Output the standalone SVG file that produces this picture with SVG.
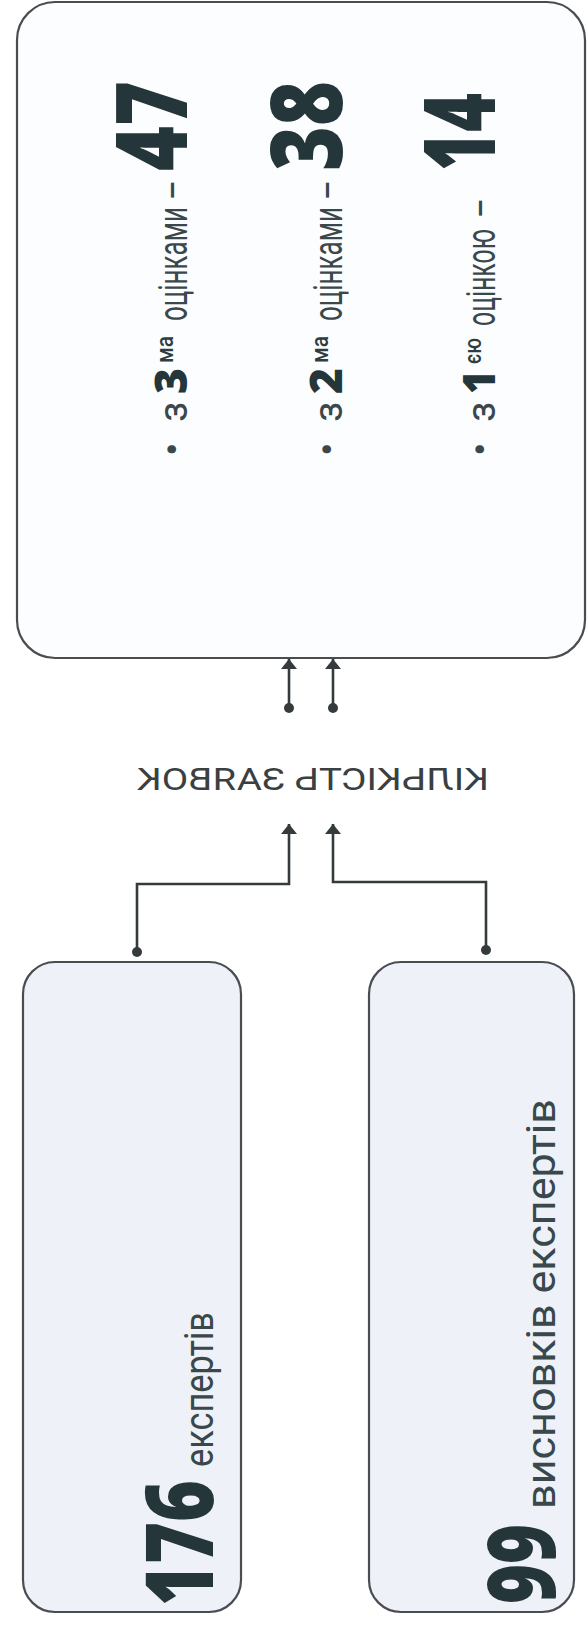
<svg xmlns="http://www.w3.org/2000/svg" width="587" height="1627" viewBox="0 0 587 1627">
<style>
.box{stroke:#4a4d50;stroke-width:2.2}
.top{fill:#fcfdfe}
.low{fill:#eef2f8}
.sm{font-family:Roboto,"Liberation Sans",sans-serif;font-size:40px;fill:#3a474b}
.sup{font-family:Roboto,"Liberation Sans",sans-serif;font-size:24px;font-weight:500;fill:#2e3d41}
.mid{font-family:"Open Sans","Liberation Sans",sans-serif;font-weight:800;font-size:44px;fill:#24363a}
.big{font-family:"Open Sans","Liberation Sans",sans-serif;font-weight:800;fill:#24363a}
.lbl{font-family:Roboto,"Liberation Sans",sans-serif;font-size:32px;fill:#3a3f42}
.ln{fill:none;stroke:#353a3c;stroke-width:2.6}
.dot{fill:#353a3c}
</style>
<defs>
<marker id="ah" viewBox="0 0 10 16" refX="10" refY="8" markerWidth="10" markerHeight="16" markerUnits="userSpaceOnUse" orient="auto">
<path d="M0,0 L10,8 L0,16 Z" fill="#353a3c"/>
</marker>
</defs>

<g id="results">
<rect class="box top" x="17" y="2" width="568" height="656" rx="38"/>
<g transform="translate(187,456) rotate(-90)">
<text class="sm"><tspan x="0" y="0">•</tspan><tspan x="34">з</tspan></text>
<text class="mid" x="62" y="0" textLength="26" lengthAdjust="spacingAndGlyphs">3</text>
<text class="sup" x="93" y="-14" textLength="27" lengthAdjust="spacingAndGlyphs">ма</text>
<text class="sm" x="135" y="0" textLength="114" lengthAdjust="spacingAndGlyphs">оцінками</text>
<text class="sm" x="256" y="0" textLength="20" lengthAdjust="spacingAndGlyphs">–</text>
<text class="big" x="285" y="0" font-size="100" textLength="90" lengthAdjust="spacingAndGlyphs">47</text>
</g>
<g transform="translate(342,456) rotate(-90)">
<text class="sm"><tspan x="0" y="0">•</tspan><tspan x="34">з</tspan></text>
<text class="mid" x="62" y="0" textLength="26" lengthAdjust="spacingAndGlyphs">2</text>
<text class="sup" x="93" y="-14" textLength="27" lengthAdjust="spacingAndGlyphs">ма</text>
<text class="sm" x="135" y="0" textLength="114" lengthAdjust="spacingAndGlyphs">оцінками</text>
<text class="sm" x="256" y="0" textLength="20" lengthAdjust="spacingAndGlyphs">–</text>
<text class="big" x="285" y="0" font-size="100" textLength="90" lengthAdjust="spacingAndGlyphs">38</text>
</g>
<g transform="translate(495,456) rotate(-90)">
<text class="sm"><tspan x="0" y="0">•</tspan><tspan x="34">з</tspan></text>
<text class="mid" x="62" y="0" textLength="24" lengthAdjust="spacingAndGlyphs">1</text>
<text class="sup" x="92" y="-14" textLength="26" lengthAdjust="spacingAndGlyphs">єю</text>
<text class="sm" x="130" y="0" textLength="97" lengthAdjust="spacingAndGlyphs">оцінкою</text>
<text class="sm" x="238" y="0" textLength="20" lengthAdjust="spacingAndGlyphs">–</text>
<text class="big" x="285" y="0" font-size="100" textLength="78" lengthAdjust="spacingAndGlyphs">14</text>
</g>
</g>

<g id="label">
<text class="lbl" transform="translate(313,790) scale(-1,1)" x="0" y="0" text-anchor="middle" textLength="352" lengthAdjust="spacingAndGlyphs">КІЛЬКІСТЬ ЗАЯВОК</text>
</g>

<g id="experts">
<rect class="box low" x="23" y="962" width="218" height="650" rx="32"/>
<g transform="translate(213,1606) rotate(-90)">
<text class="big" x="0" y="0" font-size="94" textLength="126" lengthAdjust="spacingAndGlyphs">176</text>
<text class="sm" x="139" y="0" textLength="155" lengthAdjust="spacingAndGlyphs">експертів</text>
</g>
</g>

<g id="conclusions">
<rect class="box low" x="369" y="962" width="205" height="650" rx="32"/>
<g transform="translate(555,1604) rotate(-90)">
<text class="big" x="0" y="0" font-size="94" textLength="80" lengthAdjust="spacingAndGlyphs">99</text>
<text class="sm" x="95" y="0" textLength="410" lengthAdjust="spacingAndGlyphs">висновків експертів</text>
</g>
</g>

<g id="connectors">
<path class="ln" d="M289,708 V659" marker-end="url(#ah)"/>
<path class="ln" d="M333,708 V659" marker-end="url(#ah)"/>
<circle class="dot" cx="289" cy="708" r="5"/>
<circle class="dot" cx="333" cy="708" r="5"/>
<path class="ln" d="M137,952 V884 H289 V824" marker-end="url(#ah)"/>
<path class="ln" d="M486,950 V882 H333 V824" marker-end="url(#ah)"/>
<circle class="dot" cx="137" cy="952" r="5"/>
<circle class="dot" cx="486" cy="950" r="5"/>
</g>
</svg>
